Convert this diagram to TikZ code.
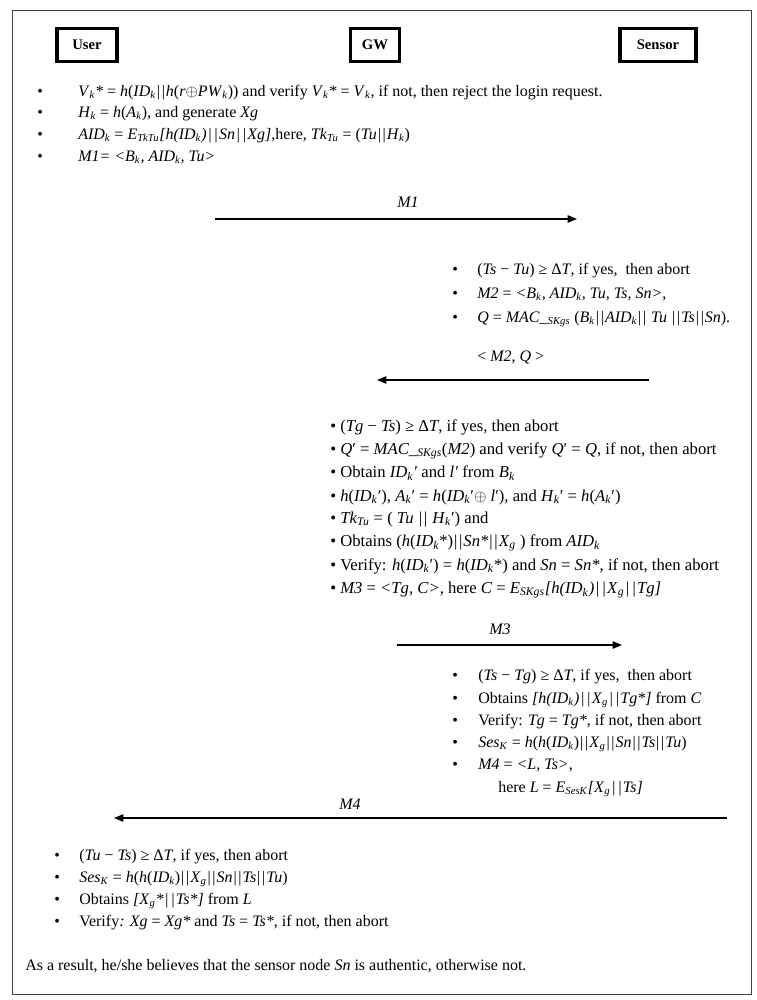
\documentclass[tikz,border=0pt]{standalone}
\usepackage{fontspec}
\setmainfont{Liberation Serif}
\usetikzlibrary{arrows.meta}
\newcommand\vi[1]{\textit{#1}}
\newcommand\sbi[1]{\textsubscript{\textit{#1}}}
\newcommand\xo{\ensuremath{\oplus}}
\newcommand\pp{\kern0.7pt|\kern1.3pt|\kern0.7pt}
\tikzset{
  txt/.style={anchor=base west, inner sep=0pt, font=\fontsize{12}{14}\selectfont},
  gtxt/.style={anchor=base west, inner sep=0pt, font=\fontsize{12.5}{14}\selectfont},
  lbl/.style={anchor=base, inner sep=0pt, font=\fontsize{12}{14}\selectfont\itshape},
  actor/.style={draw, line width=2.6pt, minimum height=25pt, inner sep=0pt, font=\fontsize{11}{12}\selectfont\bfseries},
  msg/.style={line width=1.1pt, -{Triangle[length=7pt,width=5.5pt]}},
}
\begin{document}
\begin{tikzpicture}[x=0.75pt,y=-0.75pt]
\useasboundingbox (0,0) rectangle (757,1000);
\draw[line width=0.7pt, black!75] (12,10) rectangle (751,994);
% actors
\node[actor, minimum width=45pt] (user) at (87,45) {User};
\node[actor, minimum width=37pt] (gw) at (375,45) {GW};
\node[actor, minimum width=57pt] (sensor) at (658,45) {Sensor};
% block 1 (user)
\foreach \y/\n in {96.5/1,117.5/2,139.5/3,161.5/4} \node[txt] (bu\n) at (37,\y) {\textbullet};
\node[txt] (u1) at (78,96.5) {\vi{V}\sbi{k}\vi{*} = \vi{h}(\vi{ID}\sbi{k}\pp\vi{h}(\vi{r}\xo\vi{PW}\sbi{k})) and verify \vi{V}\sbi{k}\vi{*} = \vi{V}\sbi{k}, if not, then reject the login request.};
\node[txt] (u2) at (78,117.5) {\vi{H}\sbi{k} = \vi{h}(\vi{A}\sbi{k}), and generate \vi{Xg}};
\node[txt] (u3) at (78,139.5) {\vi{AID}\sbi{k} = \vi{E}\sbi{TkTu}\vi{[h(ID}\sbi{k}\vi{)\pp Sn\pp Xg]},here, \vi{Tk}\sbi{Tu} = (\vi{Tu}\pp\vi{H}\sbi{k})};
\node[txt] (u4) at (78,161.5) {\vi{M1= <B}\sbi{k}\vi{, AID}\sbi{k}\vi{, Tu>}};
% M1
\coordinate (m1s) at (215,219);
\coordinate (m1e) at (577,219);
\draw[msg] (m1s) -- (m1e);
\node[lbl] (m1) at (408,207.5) {M1};
% block 2 (sensor)
\foreach \y/\n in {274.5/1,298.5/2,322.5/3} \node[txt] (bs\n) at (452,\y) {\textbullet};
\node[txt] (s1) at (477,274.5) {(\vi{Ts} − \vi{Tu}) ≥ Δ\vi{T}, if yes,\ \ then abort};
\node[txt] (s2) at (477,298.5) {\vi{M2} = \vi{<B}\sbi{k}\vi{, AID}\sbi{k}\vi{, Tu, Ts, Sn>},};
\node[txt] (s3) at (477,322.5) {\vi{Q} = \vi{MAC\_}\sbi{SKgs} (\vi{B}\sbi{k}\pp\vi{AID}\sbi{k}\pp\ \vi{Tu} \pp\vi{Ts}\pp\vi{Sn}).};
% M2
\node[txt] (m2) at (477,361.5) {< \vi{M2}, \vi{Q} >};
\coordinate (m2s) at (649,380);
\coordinate (m2e) at (377,380);
\draw[msg] (m2s) -- (m2e);
% block 3 (gw)
\node[gtxt] (g1) at (330,431.5) {\textbullet\ (\vi{Tg} − \vi{Ts}) ≥ Δ\vi{T}, if yes, then abort};
\node[gtxt] (g2) at (330,454.5) {\textbullet\ \vi{Q}′ = \vi{MAC\_}\sbi{SKgs}(\vi{M2}) and verify \vi{Q}′ = \vi{Q}, if not, then abort};
\node[gtxt] (g3) at (330,477.5) {\textbullet\ Obtain \vi{ID}\sbi{k}\vi{′} and \vi{l′} from \vi{B}\sbi{k}};
\node[gtxt] (g4) at (330,501) {\textbullet\ \vi{h}(\vi{ID}\sbi{k}′), \vi{A}\sbi{k}′ = \vi{h}(\vi{ID}\sbi{k}′\xo\ \vi{l}′), and \vi{H}\sbi{k}′ = \vi{h}(\vi{A}\sbi{k}′)};
\node[gtxt] (g5) at (330,523) {\textbullet\ \vi{Tk}\sbi{Tu} = ( \vi{Tu} \pp\ \vi{H}\sbi{k}′) and};
\node[gtxt] (g6) at (330,546.5) {\textbullet\ Obtains (\vi{h}(\vi{ID}\sbi{k}*)\pp\vi{Sn*}\pp\vi{X}\sbi{g} ) from \vi{AID}\sbi{k}};
\node[gtxt] (g7) at (330,570) {\textbullet\ Verify: \vi{h}(\vi{ID}\sbi{k}′) = \vi{h}(\vi{ID}\sbi{k}*) and \vi{Sn} = \vi{Sn*}, if not, then abort};
\node[gtxt] (g8) at (330,593.5) {\textbullet\ \vi{M3} = \vi{<Tg}, \vi{C>}, here \vi{C} = \vi{E}\sbi{SKgs}\vi{[h(ID}\sbi{k}\vi{)\pp X}\sbi{g}\vi{\pp Tg]}};
% M3
\node[lbl] (m3) at (500,634.5) {M3};
\coordinate (m3s) at (397,645);
\coordinate (m3e) at (622,645);
\draw[msg] (m3s) -- (m3e);
% block 4 (sensor)
\foreach \y/\n in {680.5/1,703.5/2,725.5/3,747.5/4,769.5/5} \node[txt] (bt\n) at (452,\y) {\textbullet};
\node[txt] (t1) at (478,680.5) {(\vi{Ts} − \vi{Tg}) ≥ Δ\vi{T}, if yes,\ \ then abort};
\node[txt] (t2) at (478,703.5) {Obtains \vi{[h(ID}\sbi{k}\vi{)\pp X}\sbi{g}\vi{\pp Tg*]} from \vi{C}};
\node[txt] (t3) at (478,725.5) {Verify: \vi{Tg} = \vi{Tg*}, if not, then abort};
\node[txt] (t4) at (478,747.5) {\vi{Ses}\sbi{K} = \vi{h}(\vi{h}(\vi{ID}\sbi{k})\pp\vi{X}\sbi{g}\pp\vi{Sn}\pp\vi{Ts}\pp\vi{Tu})};
\node[txt] (t5) at (478,769.5) {\vi{M4} = \vi{<L}, \vi{Ts>},};
\node[txt] (t6) at (498,792.5) {here \vi{L} = \vi{E}\sbi{SesK}\vi{[X}\sbi{g}\vi{\pp Ts]}};
% M4
\node[lbl] (m4) at (350,809.5) {M4};
\coordinate (m4s) at (727,818);
\coordinate (m4e) at (114,818);
\draw[msg] (m4s) -- (m4e);
% block 5 (user)
\foreach \y/\n in {860.5/1,882.5/2,904.5/3,926.5/4} \node[txt] (bv\n) at (54,\y) {\textbullet};
\node[txt] (v1) at (79,860.5) {(\vi{Tu} − \vi{Ts}) ≥ Δ\vi{T}, if yes, then abort};
\node[txt] (v2) at (79,882.5) {\vi{Ses}\sbi{K} = \vi{h}(\vi{h}(\vi{ID}\sbi{k})\pp\vi{X}\sbi{g}\pp\vi{Sn}\pp\vi{Ts}\pp\vi{Tu})};
\node[txt] (v3) at (79,904.5) {Obtains \vi{[X}\sbi{g}\vi{*\pp Ts*]} from \vi{L}};
\node[txt] (v4) at (79,926.5) {Verify\vi{: Xg} = \vi{Xg*} and \vi{Ts} = \vi{Ts*}, if not, then abort};
% final
\node[txt] (fin) at (25,970.5) {As a result, he/she believes that the sensor node \vi{Sn} is authentic, otherwise not.};
\end{tikzpicture}
\end{document}
